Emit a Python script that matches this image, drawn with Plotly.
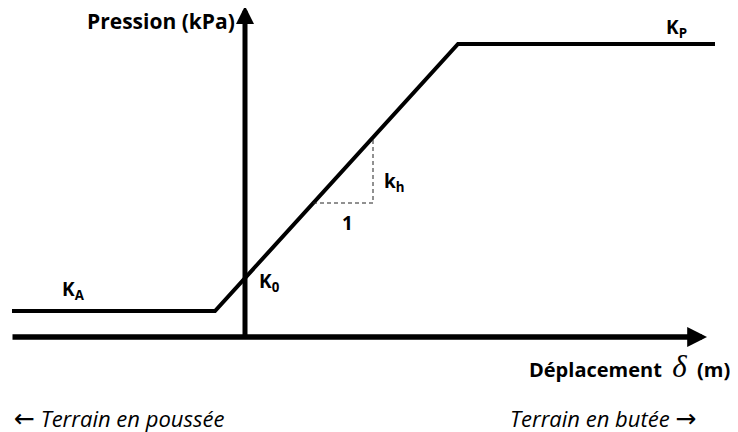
import plotly.graph_objects as go

# Piecewise pressure/displacement law (schematic units)
delta = [-23.3, -3.0, 21.3, 47.0]
pression = [2.6, 2.6, 29.3, 29.3]

# slope triangle (1 horizontal, k_h vertical)
tri_x = [6.8, 12.8, 12.8]
tri_y = [13.4, 13.4, 20.0]

# axes extents
x_axis_start, x_axis_end = -23.4, 46.2
y_axis_end = 33.1

FONT = "Open Sans"

fig = go.Figure()
fig.add_trace(go.Scatter(x=delta, y=pression, mode="lines",
                         line=dict(color="black", width=4), hoverinfo="skip"))
fig.add_trace(go.Scatter(x=tri_x, y=tri_y, mode="lines",
                         line=dict(color="#222222", width=1, dash="4px,3px"), hoverinfo="skip"))

# axes with arrows
fig.add_annotation(x=0, y=y_axis_end, ax=0, ay=-0.3, xref="x", yref="y", axref="x", ayref="y",
                   text="", showarrow=True, arrowhead=2, arrowsize=0.72, arrowwidth=5,
                   arrowcolor="black", standoff=0)
fig.add_annotation(x=x_axis_end, y=0, ax=x_axis_start, ay=0, xref="x", yref="y", axref="x", ayref="y",
                   text="", showarrow=True, arrowhead=2, arrowsize=0.72, arrowwidth=5.5,
                   arrowcolor="black", standoff=0)

def lab(x, y, text, size=19, xanchor="center", yanchor="middle", bold=True):
    fig.add_annotation(x=x, y=y, xref="x", yref="y", text=(f"<b>{text}</b>" if bold else text),
                       showarrow=False, xanchor=xanchor, yanchor=yanchor,
                       font=dict(family=FONT, size=size, color="black"))

lab(-0.8, 31.6, "Pression (kPa)", size=21, xanchor="right")
lab(43.1, 30.9, "K<sub>P</sub>")
lab(14.9, 15.5, "k<sub>h</sub>")
lab(10.2, 11.4, "1")
lab(2.4, 5.5, "K<sub>0</sub>")
lab(-17.2, 4.7, "K<sub>A</sub>")

fig.add_annotation(x=28.2, y=-2.9, xref="x", yref="y", showarrow=False, xanchor="left", yanchor="middle",
                   text=("<b>Déplacement\u00a0\u00a0</b>"
                         "<span style='font-family:Liberation Serif;font-size:31px'><i>δ</i></span>"
                         "<span style='font-size:20px'><b>\u00a0\u00a0(m)</b></span>"),
                   font=dict(family=FONT, size=20, color="black"))

ARROW = "<span style='font-family:DejaVu Sans;font-size:25px'>{}</span>"
fig.add_annotation(x=-23.3, y=-8.1, xref="x", yref="y", showarrow=False, xanchor="left", yanchor="middle",
                   text=ARROW.format("←") + "\u00a0<i>Terrain en poussée</i>",
                   font=dict(family=FONT, size=22, color="black"))
fig.add_annotation(x=45.3, y=-8.1, xref="x", yref="y", showarrow=False, xanchor="right", yanchor="middle",
                   text="<i>Terrain en butée</i>\u00a0" + ARROW.format("→"),
                   font=dict(family=FONT, size=22, color="black"))

# the page body keeps an 8px margin, so the figure is sized to fill the rest of the window
fig.update_layout(
    width=730, height=424,
    margin=dict(l=0, r=0, t=0, b=0),
    paper_bgcolor="white", plot_bgcolor="white",
    showlegend=False,
    xaxis=dict(range=[-23.7, 49.3], visible=False, fixedrange=True),
    yaxis=dict(range=[-9.5, 32.9], visible=False, fixedrange=True),
)

fig.write_html("out.html")
